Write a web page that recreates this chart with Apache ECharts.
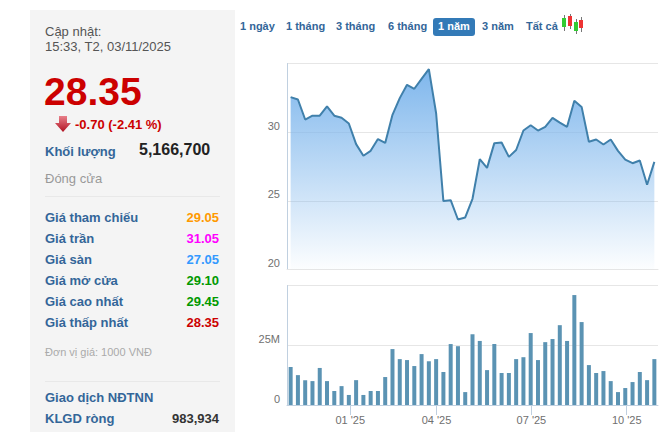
<!DOCTYPE html>
<html>
<head>
<meta charset="utf-8">
<script src="https://cdn.jsdelivr.net/npm/echarts@6/dist/echarts.min.js"></script>
<style>
html,body{margin:0;padding:0;background:#fff;font-family:"Liberation Sans",Arial,sans-serif;overflow:hidden}
#page{position:relative;width:670px;height:432px;overflow:hidden}
#panel{position:absolute;left:30px;top:10px;width:205px;height:422px;background:#f4f4f4}
#chart{position:absolute;left:240px;top:0;width:430px;height:432px}
.t{position:absolute;white-space:nowrap;line-height:16px}
.lbl{left:45px;font-size:13px;font-weight:bold;color:#336699}
.val{right:451px;font-size:13px;font-weight:bold}
.rule{position:absolute;left:45px;width:175px;height:1px;background:#e8e8e8}
.tab{position:absolute;top:18px;height:18px;line-height:17px;font-size:11px;font-weight:bold;color:#336699;text-align:center;white-space:nowrap}
.tab.on{background:#337ab7;color:#fff;border-radius:3px}
svg{position:absolute}
</style>
</head>
<body>
<div id="page">
  <div id="panel"></div>
  <div id="chart"></div>
  <div id="side"></div>
  <div id="tabs"></div>
  <svg style="left:55px;top:116px" width="16" height="18" viewBox="0 0 16 18">
    <defs><linearGradient id="arr" x1="0" y1="0" x2="0" y2="1"><stop offset="0" stop-color="#e8808a"/><stop offset="1" stop-color="#b01020"/></linearGradient></defs>
    <path d="M4 0H12V7H16L8 16L0 7H4Z" fill="url(#arr)"/>
  </svg>
  <svg style="left:561px;top:14px" width="23" height="20" viewBox="0 0 23 20">
    <path d="M3.5 1V17M9.5 0V15M15.5 5V20M20.5 3V18" stroke="#777" fill="none"/>
    <rect x="1" y="4" width="4" height="9" fill="#33cc33"/>
    <rect x="7" y="2" width="4" height="10" fill="#ee3333"/>
    <rect x="13" y="8" width="4" height="9" fill="#33cc33"/>
    <rect x="18" y="6" width="4" height="8" fill="#ee3333"/>
  </svg>
</div>
<script>
var prices = [32.55,32.38,30.92,31.2,31.2,31.87,31.2,31.05,30.63,29.13,28.28,28.64,29.5,29.22,31.26,32.48,33.45,33.16,33.88,34.59,31.38,24.98,25.05,23.64,
  23.79,25.15,28.03,27.4,29.2,29.25,28.2,28.7,30.12,30.5,30.12,30.39,31.04,30.7,30.39,32.28,31.84,29.3,29.47,29.1,29.47,28.64,28.0,27.74,27.94,26.17,27.84];
var volumes = [15.9,12.5,10.4,10,15.5,10,5.85,7.9,4.2,10.4,4.2,5.85,5.85,11.7,23.4,19.2,18.8,16.3,21.3,18.3,19.2,13.8,25.5,24.6,
  5.4,29.6,26.8,14.6,25.5,13.4,13.4,19.2,20,30.1,18.8,26.3,27.6,33.4,26.8,46,34.7,16.7,13.4,14.2,10,5.4,7.1,9.6,13.8,10.4,19.2];
var tickWeeks = [8.2,20.05,33.1,46.2];
var tickLabels = ["01 '25","04 '25","07 '25","10 '25"];
var tabNames = ['1 ngày','1 tháng','3 tháng','6 tháng','1 năm','3 năm','Tất cả'];
var activeTab = '1 năm';
var rowNames = ['Giá tham chiếu','Giá trần','Giá sàn','Giá mở cửa','Giá cao nhất','Giá thấp nhất'];
var rowValues = ['29.05','31.05','27.05','29.10','29.45','28.35'];
var rowColors = ['#ff9900','#ff00ff','#3399ff','#009900','#009900','#cc0000'];

function addText(box, cls, style, text){
  var d = document.createElement('div');
  d.className = cls;
  d.style.cssText = style;
  d.textContent = text;
  box.appendChild(d);
}
var side = document.getElementById('side');
addText(side,'t','left:45px;top:24px;font-size:13px;color:#555','Cập nhật:');
addText(side,'t','left:45px;top:39px;font-size:13px;color:#555','15:33, T2, 03/11/2025');
addText(side,'t','left:44px;top:72px;line-height:40px;font-size:39px;font-weight:bold;color:#cc0000','28.35');
addText(side,'t','left:75px;top:117px;font-size:13px;font-weight:bold;color:#cc0000','-0.70 (-2.41 %)');
addText(side,'t lbl','top:144px','Khối lượng');
addText(side,'t','left:139px;top:142px;font-size:16px;font-weight:bold;color:#222','5,166,700');
addText(side,'t','left:45px;top:171px;font-size:13px;color:#999','Đóng cửa');
addText(side,'rule','top:196px','');
rowNames.forEach(function(name,i){
  addText(side,'t lbl','top:'+(210+i*21)+'px',name);
  addText(side,'t val','top:'+(210+i*21)+'px;color:'+rowColors[i],rowValues[i]);
});
addText(side,'t','left:45px;top:344px;font-size:11px;color:#aaa','Đơn vị giá: 1000 VNĐ');
addText(side,'rule','top:381px','');
addText(side,'t lbl','top:390px','Giao dịch NĐTNN');
addText(side,'t lbl','top:411px','KLGD ròng');
addText(side,'t val','top:411px;color:#333','983,934');

var tabLeft = [240,286,336,388,433,482,526];
var tabWidth = [33,37,38,38,42,31,30];
var tabs = document.getElementById('tabs');
tabNames.forEach(function(name,i){
  addText(tabs,'tab'+(name===activeTab?' on':''),'left:'+tabLeft[i]+'px;width:'+tabWidth[i]+'px',name);
});

var myChart = echarts.init(document.getElementById('chart'),null,{renderer:'svg'});
var labelStyle = {color:'#707070',fontSize:11,fontFamily:'Liberation Sans',verticalAlign:'bottom',margin:7,padding:[0,0,1,0]};
var gridLine = {show:true,lineStyle:{color:'#e6e6e6',width:1}};
var edgeLine = {color:'#c0d0e0',width:1};
myChart.setOption({
  animation:false,
  grid:[
    {left:47,right:12,top:63.5,height:206},
    {left:47,right:12,top:285.5,height:119.5}
  ],
  xAxis:[
    {gridIndex:0,type:'value',min:-0.5,max:50.5,splitLine:{show:false},axisLabel:{show:false},
      axisTick:{show:false},axisLine:{show:true,onZero:false,lineStyle:{color:'#e6e6e6'}}},
    {gridIndex:1,type:'value',min:-0.5,max:50.5,splitLine:{show:false},
      axisLine:{show:true,onZero:false,lineStyle:edgeLine},
      axisTick:{show:true,length:10,customValues:tickWeeks,lineStyle:edgeLine},
      axisLabel:{show:true,customValues:tickWeeks,color:'#707070',fontSize:11,fontFamily:'Liberation Sans',margin:9,
        formatter:function(v){return tickLabels[tickWeeks.indexOf(v)];}}}
  ],
  yAxis:[
    {gridIndex:0,type:'value',min:20,max:35,interval:5,splitLine:gridLine,axisTick:{show:false},
      axisLine:{show:true,onZero:false,lineStyle:edgeLine},
      axisLabel:Object.assign({},labelStyle,{formatter:function(v){return v===35?'':v;}})},
    {gridIndex:1,type:'value',min:0,max:50,interval:25,splitLine:gridLine,axisTick:{show:false},
      axisLine:{show:true,onZero:false,lineStyle:edgeLine},
      axisLabel:Object.assign({},labelStyle,{formatter:function(v){return v===50?'':(v===0?'0':v+'M');}})}
  ],
  series:[
    {type:'line',xAxisIndex:0,yAxisIndex:0,showSymbol:false,z:3,
      data:prices.map(function(v,i){return [i,v];}),
      lineStyle:{color:'#4080ab',width:2},
      areaStyle:{origin:'start',opacity:1,color:new echarts.graphic.LinearGradient(0,0,0,1,[
        {offset:0,color:'rgba(124,181,236,0.98)'},
        {offset:1,color:'rgba(124,181,236,0.02)'}
      ])}},
    {type:'bar',xAxisIndex:1,yAxisIndex:1,barWidth:4,z:3,
      data:volumes.map(function(v,i){return [i,v];}),
      itemStyle:{color:'#5b93b3'}}
  ]
});
</script>
</body>
</html>
